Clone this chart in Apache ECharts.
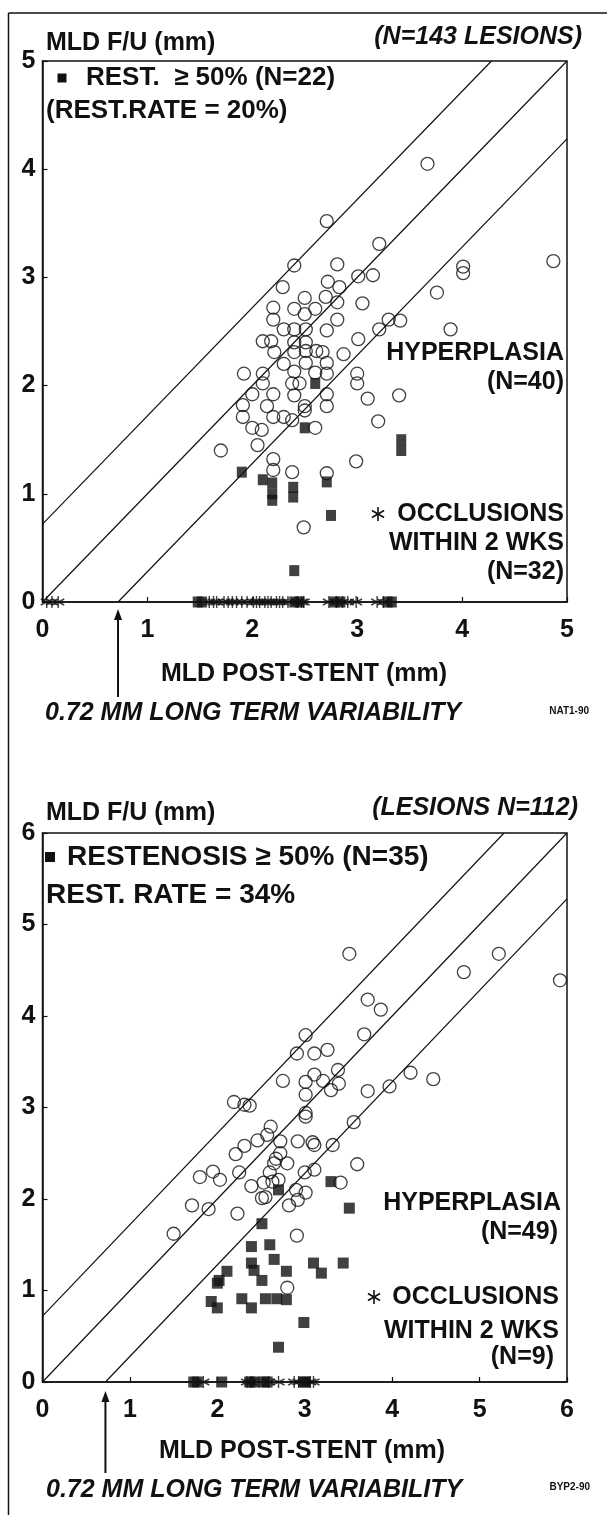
<!DOCTYPE html>
<html>
<head>
<meta charset="utf-8">
<script src="https://cdn.jsdelivr.net/npm/echarts@6/dist/echarts.min.js"></script>
<style>html,body{margin:0;padding:0;background:#fff}#c{width:607px;height:1515px}</style>
</head>
<body>
<div id="c"></div>
<script>
// ---------- DATA ----------
const variability = 0.72;
const lineOffsets = [variability, 0, -variability];

const topXTicks = ['0','1','2','3','4','5'];
const topYTicks = ['0','1','2','3','4','5'];
const botXTicks = ['0','1','2','3','4','5','6'];
const botYTicks = ['0','1','2','3','4','5','6'];

const topCircles = [
 [2.71,3.52],[2.40,3.11],[3.21,3.31],[2.29,2.91],[2.81,3.12],[2.72,2.96],[2.83,2.91],[3.01,3.01],[3.15,3.02],[2.50,2.81],
 [2.70,2.82],[2.81,2.77],[3.05,2.76],[2.20,2.72],[2.40,2.71],[2.60,2.71],[2.50,2.66],[2.20,2.61],[2.81,2.61],[3.30,2.61],
 [2.30,2.52],[2.40,2.52],[2.51,2.52],[2.71,2.51],[3.21,2.52],[3.01,2.43],[2.10,2.41],[2.18,2.41],[2.40,2.40],[2.51,2.40],
 [2.21,2.31],[2.40,2.31],[2.51,2.32],[2.61,2.32],[2.67,2.31],[2.87,2.29],[2.30,2.20],[2.51,2.21],[2.71,2.21],[1.92,2.11],
 [2.10,2.11],[2.40,2.13],[2.60,2.12],[2.71,2.11],[3.00,2.11],[2.38,2.02],[2.45,2.02],[2.10,2.02],[3.00,2.02],[2.00,1.92],
 [2.20,1.92],[2.40,1.91],[2.71,1.92],[3.10,1.88],[1.91,1.82],[2.14,1.81],[2.50,1.81],[2.50,1.77],[2.71,1.81],[1.91,1.71],
 [2.20,1.71],[2.30,1.71],[2.38,1.68],[3.20,1.67],[2.00,1.61],[2.09,1.59],[2.60,1.61],[1.70,1.40],[2.05,1.45],[2.20,1.32],
 [2.99,1.30],[2.20,1.22],[2.38,1.20],[2.71,1.19],[3.67,4.05],[4.01,3.10],[4.01,3.04],[3.76,2.86],[4.87,3.15],[3.41,2.60],
 [3.89,2.52],[3.40,1.91],[2.49,0.69]
];
const topRestenosis = [
 [2.60,2.02],[2.50,1.61],[1.90,1.20],[2.10,1.13],[2.19,1.10],[2.19,1.00],[2.19,0.94],[2.39,1.06],[2.39,0.97],[2.71,1.11],
 [2.75,0.80],[2.40,0.29],[3.42,1.50],[3.42,1.40],
 [1.48,0],[1.52,0],[2.40,0],[2.45,0],[2.78,0],[2.84,0],[3.29,0],[3.33,0]
];
const topOcclusionX = [0.04,0.09,0.15,1.59,1.63,1.66,1.73,1.77,1.81,1.85,1.90,1.95,2.01,2.04,2.07,2.12,
 2.15,2.18,2.23,2.26,2.29,2.34,2.43,2.47,2.49,2.73,2.80,2.86,2.91,2.99,3.19,3.25];

const botCircles = [
 [3.51,4.68],[3.01,3.79],[2.91,3.59],[3.11,3.59],[3.26,3.63],[3.68,3.80],[3.72,4.18],[3.87,4.07],[4.82,4.48],[5.22,4.68],
 [5.92,4.39],[3.72,3.18],[3.97,3.23],[4.21,3.38],[4.47,3.31],[2.75,3.29],[3.01,3.28],[3.11,3.36],[3.21,3.29],[3.38,3.41],
 [3.39,3.26],[3.30,3.19],[3.01,3.14],[2.19,3.06],[2.31,3.03],[2.37,3.02],[3.01,2.94],[3.01,2.90],[3.56,2.84],[2.61,2.79],
 [2.57,2.70],[2.46,2.64],[2.72,2.63],[2.92,2.63],[3.09,2.62],[3.11,2.59],[3.32,2.59],[2.31,2.58],[2.21,2.49],[2.72,2.50],
 [2.67,2.44],[2.65,2.39],[2.80,2.39],[3.60,2.38],[1.80,2.24],[1.95,2.30],[2.03,2.21],[2.25,2.29],[2.60,2.29],[3.00,2.29],
 [3.11,2.32],[2.39,2.14],[2.53,2.18],[2.63,2.19],[2.70,2.21],[3.41,2.18],[2.90,2.10],[3.01,2.07],[2.51,2.01],[2.55,2.02],
 [2.82,1.93],[2.92,1.99],[1.71,1.93],[1.90,1.89],[2.23,1.84],[1.50,1.62],[2.91,1.60],[2.80,1.03]
];
const botRestenosis = [
 [2.70,2.10],[3.30,2.19],[2.51,1.73],[3.51,1.90],[2.39,1.48],[2.60,1.50],[2.65,1.34],[2.39,1.30],[2.42,1.22],[2.11,1.21],
 [2.02,1.11],[2.00,1.08],[2.51,1.11],[2.79,1.21],[3.10,1.30],[3.19,1.19],[3.44,1.30],[1.93,0.88],[2.00,0.81],[2.28,0.91],
 [2.39,0.81],[2.55,0.91],[2.68,0.91],[2.79,0.90],[2.99,0.65],[2.70,0.38],
 [1.73,0],[1.77,0],[2.05,0],[2.37,0],[2.42,0],[2.53,0],[2.57,0],[2.99,0],[3.01,0]
];
const botOcclusionX = [1.84,2.34,2.39,2.59,2.70,2.88,2.93,3.06,3.10];

// ---------- STYLE / LAYOUT ----------
const FONT = '"Liberation Sans", Arial, Helvetica, sans-serif';
const BLACK = '#111';
const AST = 'path://M5,0 L5,10 M0.67,2.5 L9.33,7.5 M0.67,7.5 L9.33,2.5';

function diagLines(maxV){
  return lineOffsets.map(o=>{
    const p1 = o>=0 ? [0,o] : [-o,0];
    const p2 = o>=0 ? [maxV-o,maxV] : [maxV,maxV+o];
    return [p1,p2];
  });
}

function axisPair(idx, maxV, xt, yt){
  const common = {
    gridIndex: idx, type:'value', min:0, max:maxV, interval:1,
    axisLine:{show:true,lineStyle:{color:BLACK,width:1.5}},
    axisTick:{show:true,inside:true,length:5,lineStyle:{color:BLACK,width:1.2}},
    splitLine:{show:false},
  };
  return {
    x: Object.assign({}, common, {axisLabel:{color:BLACK,fontSize:25,fontWeight:'bold',fontFamily:FONT,margin:16,
         formatter:v=>xt[Math.round(v)]}}),
    y: Object.assign({}, common, {axisLabel:{color:BLACK,fontSize:25,fontWeight:'bold',fontFamily:FONT,margin:7,
         formatter:v=>yt[Math.round(v)]}})
  };
}

const A0 = axisPair(0,5,topXTicks,topYTicks);
const A1 = axisPair(1,6,botXTicks,botYTicks);

function scatterSeries(idx, circles, rest, occX, sq){
  return [
    {type:'scatter', xAxisIndex:idx, yAxisIndex:idx, data:circles, symbol:'circle', symbolSize:13, clip:false, silent:true,
      itemStyle:{color:'rgba(0,0,0,0)', borderColor:BLACK, borderWidth:1.3}, z:3},
    {type:'scatter', xAxisIndex:idx, yAxisIndex:idx, data:rest, symbol:'rect', symbolSize:sq, clip:false, silent:true,
      itemStyle:{color:BLACK}, z:4},
    {type:'scatter', xAxisIndex:idx, yAxisIndex:idx, data:occX.map(x=>[x,0]), symbol:AST, symbolSize:12, clip:false, silent:true,
      itemStyle:{color:'rgba(0,0,0,0)', borderColor:BLACK, borderWidth:1.4}, z:5}
  ];
}
function lineSeries(idx, maxV){
  return diagLines(maxV).map(d=>({type:'line', xAxisIndex:idx, yAxisIndex:idx, data:d, symbol:'none', silent:true,
     lineStyle:{color:BLACK,width:1.2}, z:2}));
}

const chart = echarts.init(document.getElementById('c'), null, {renderer:'canvas'});
chart.setOption({
  animation:false,
  backgroundColor:'#fff',
  grid:[
    {left:42.5, top:61, width:524.5, height:541, show:true, borderColor:BLACK, borderWidth:1.5},
    {left:42.5, top:833, width:524.5, height:549, show:true, borderColor:BLACK, borderWidth:1.5}
  ],
  xAxis:[A0.x, A1.x],
  yAxis:[A0.y, A1.y],
  series:[].concat(lineSeries(0,5), scatterSeries(0,topCircles,topRestenosis,topOcclusionX,[10,11]),
                   lineSeries(1,6), scatterSeries(1,botCircles,botRestenosis,botOcclusionX,[11,11]))
});

// ---------- TEXT / ANNOTATIONS ----------
function txt(text, x, y, opt){
  opt = opt||{};
  return {type:'text', x:x, y:y, silent:true, z:10, style:{text:text, fill:BLACK,
    fontSize:opt.size||25, fontWeight:opt.weight||'bold', fontStyle:opt.style||'normal', fontFamily:FONT,
    align:opt.align||'left', verticalAlign:'middle'}};
}
const R = {align:'right'}, C = {align:'center'};
function ln(x1,y1,x2,y2,w){
  return {type:'line', silent:true, z:10, shape:{x1:x1,y1:y1,x2:x2,y2:y2}, style:{stroke:BLACK,lineWidth:w||1.6}};
}
function astIcon(cx, cy, r){
  const a = r*0.866, b = r*0.5;
  return [ln(cx,cy-r,cx,cy+r), ln(cx-a,cy-b,cx+a,cy+b), ln(cx-a,cy+b,cx+a,cy-b)];
}
function sqIcon(x, y, s){
  return {type:'rect', silent:true, z:10, shape:{x:x-s/2,y:y-s/2,width:s,height:s}, style:{fill:BLACK}};
}
function arrow(x, y1, y2){
  return [
    ln(x, y1+8, x, y2, 2),
    {type:'polygon', silent:true, z:10, shape:{points:[[x,y1],[x-4,y1+11],[x+4,y1+11]]}, style:{fill:BLACK}}
  ];
}

const ax0 = chart.convertToPixel({gridIndex:0}, [variability,0])[0];
const ax1 = chart.convertToPixel({gridIndex:1}, [variability,0])[0];

const g = [
  ln(8.5,13,8.5,1515,1.5),
  ln(8.5,13,607,13,1.5),
  // top panel
  txt('MLD F/U (mm)', 46, 43),
  txt('(N=143 LESIONS)', 582, 37, {style:'italic', align:'right'}),
  sqIcon(62, 78, 9),
  txt('REST.  \u2265 50% (N=22)', 86, 78, {size:26}),
  txt('(REST.RATE = 20%)', 46, 111, {size:26}),
  txt('HYPERPLASIA', 564, 353, R),
  txt('(N=40)', 564, 382, R),
  txt('OCCLUSIONS', 564, 514, R),
  txt('WITHIN 2 WKS', 564, 543, R),
  txt('(N=32)', 564, 572, R),
  txt('MLD POST-STENT (mm)', 304, 674, C),
  txt('0.72 MM LONG TERM VARIABILITY', 45, 713, {style:'italic'}),
  txt('NAT1-90', 589, 711, {size:10, align:'right'}),
  // bottom panel
  txt('MLD F/U (mm)', 46, 813),
  txt('(LESIONS N=112)', 578, 808, {style:'italic', align:'right'}),
  sqIcon(50, 857, 10),
  txt('RESTENOSIS \u2265 50% (N=35)', 67, 857, {size:28}),
  txt('REST. RATE = 34%', 46, 895, {size:28}),
  txt('HYPERPLASIA', 561, 1203, R),
  txt('(N=49)', 558, 1232, R),
  txt('OCCLUSIONS', 559, 1297, R),
  txt('WITHIN 2 WKS', 559, 1331, R),
  txt('(N=9)', 554, 1357, R),
  txt('MLD POST-STENT (mm)', 302, 1451, C),
  txt('0.72 MM LONG TERM VARIABILITY', 46, 1490, {style:'italic'}),
  txt('BYP2-90', 590, 1487, {size:10, align:'right'})
].concat(astIcon(378, 514, 7), astIcon(374, 1297, 7), arrow(ax0, 609, 697), arrow(ax1, 1391, 1473));

chart.setOption({graphic: g});
</script>
</body>
</html>
